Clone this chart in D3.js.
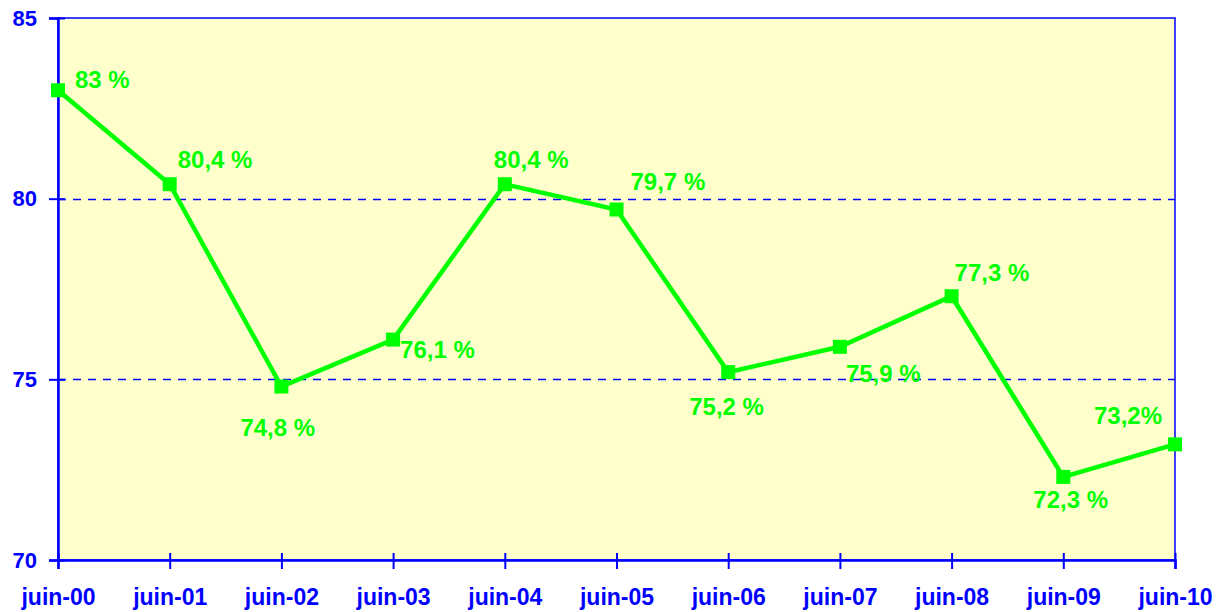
<!DOCTYPE html>
<html>
<head>
<meta charset="utf-8">
<script src="https://cdn.jsdelivr.net/npm/d3@7"></script>
<style>
  body { margin: 0; background: #fff; }
  svg { display: block; font-family: Arial, "Liberation Sans", sans-serif; font-weight: bold; }
</style>
</head>
<body>
<svg width="1224" height="612"></svg>
<script>
var categories = ['juin-00', 'juin-01', 'juin-02', 'juin-03', 'juin-04', 'juin-05', 'juin-06', 'juin-07', 'juin-08', 'juin-09', 'juin-10']
var values = [83, 80.4, 74.8, 76.1, 80.4, 79.7, 75.2, 75.9, 77.3, 72.3, 73.2]
var valueLabels = ['83 %', '80,4 %', '74,8 %', '76,1 %', '80,4 %', '79,7 %', '75,2 %', '75,9 %', '77,3 %', '72,3 %', '73,2%']
var yTicks = [70, 75, 80, 85]
var gridValues = [75, 80]

// where each value label sits, relative to its point
var labelOffsets = [[17, -2], [8, -16], [-41, 49], [7, 18], [-11, -16], [14, -20],
  [-39, 43], [6, 35], [3, -15], [-30, 31], [-81, -20]]

var chart = () => {
  var svg = d3.select('svg')
  var margin = {top: 18, right: 49, bottom: 52, left: 58}
  var width = 1224
  var height = 612
  var blue = '#0000ff'
  var green = '#00ff00'

  var x = d3.scalePoint()
    .domain(categories)
    .range([margin.left, width - margin.right])
    .padding(0)

  var y = d3.scaleLinear()
    .domain([70, 85])
    .range([height - margin.bottom, margin.top])

  svg.append('rect')
    .attr('x', margin.left)
    .attr('y', margin.top)
    .attr('width', width - margin.right - margin.left)
    .attr('height', height - margin.bottom - margin.top)
    .attr('fill', '#ffffcc')
    .attr('stroke', blue)
    .attr('stroke-width', 1.5)

  svg.append('g')
    .selectAll('line').data(gridValues).enter().append('line')
    .attr('x1', margin.left)
    .attr('x2', width - margin.right)
    .attr('y1', d => Math.round(y(d)) + 0.5)
    .attr('y2', d => Math.round(y(d)) + 0.5)
    .attr('stroke', blue)
    .attr('stroke-width', 1.3)
    .attr('stroke-dasharray', '8,7')

  var yAxis = svg.append('g')
    .attr('transform', `translate(${margin.left}, 0)`)
    .call(d3.axisLeft(y).tickValues(yTicks).tickFormat(d3.format('d')).tickSize(9).tickPadding(12))
  yAxis.select('.domain').attr('stroke', blue).attr('stroke-width', 2.5)
  yAxis.selectAll('.tick line').attr('stroke', blue).attr('stroke-width', 2).attr('x2', 7).attr('x1', -9)
  yAxis.selectAll('.tick text')
    .attr('fill', blue)
    .attr('font-size', 22)
    .attr('font-family', 'Arial, "Liberation Sans", sans-serif')
    .attr('font-weight', 'bold')

  var xAxis = svg.append('g')
    .attr('transform', `translate(0, ${height - margin.bottom})`)
    .call(d3.axisBottom(x).tickSize(9).tickPadding(20))
  xAxis.select('.domain').attr('stroke', blue).attr('stroke-width', 2.5)
  xAxis.selectAll('.tick line').attr('stroke', blue).attr('stroke-width', 2).attr('y1', -7).attr('y2', 9)
  xAxis.selectAll('.tick text')
    .attr('fill', blue)
    .attr('font-size', 23)
    .attr('font-family', 'Arial, "Liberation Sans", sans-serif')
    .attr('font-weight', 'bold')

  var line = d3.line()
    .x((d, i) => x(categories[i]))
    .y(d => y(d))

  svg.append('path')
    .datum(values)
    .attr('d', line)
    .attr('fill', 'none')
    .attr('stroke', green)
    .attr('stroke-width', 4.5)
    .attr('stroke-linejoin', 'miter')

  svg.append('g')
    .attr('fill', green)
    .selectAll('rect').data(values).enter().append('rect')
    .attr('x', (d, i) => x(categories[i]) - 7)
    .attr('y', d => y(d) - 7)
    .attr('width', 14)
    .attr('height', 14)

  svg.append('g')
    .selectAll('text').data(values).enter().append('text')
    .attr('x', (d, i) => x(categories[i]) + labelOffsets[i][0])
    .attr('y', (d, i) => y(d) + labelOffsets[i][1])
    .attr('fill', green)
    .attr('font-size', 24)
    .text((d, i) => valueLabels[i])
}

if (document.readyState === 'loading') {
  document.addEventListener('DOMContentLoaded', chart)
} else {
  chart()
}
</script>
</body>
</html>
